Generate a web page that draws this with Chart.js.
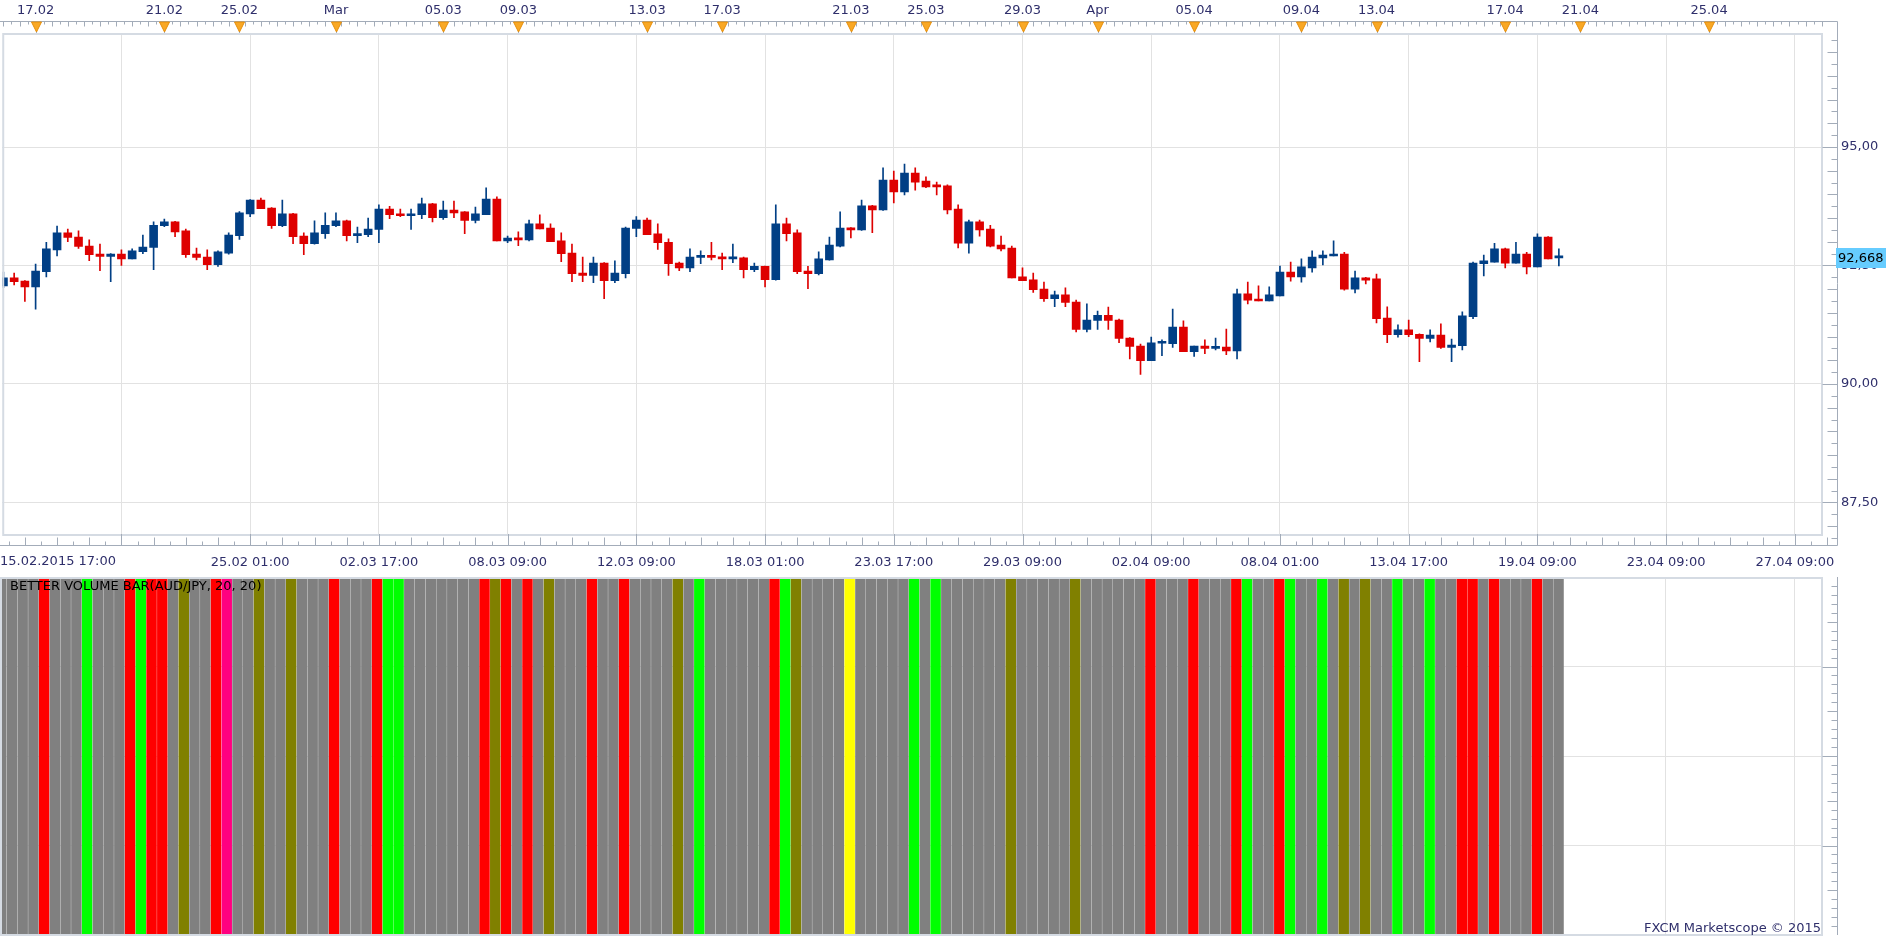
<!DOCTYPE html>
<html><head><meta charset="utf-8">
<script src="https://cdn.jsdelivr.net/npm/chart.js@4.4.1/dist/chart.umd.min.js"></script>
<style>
html,body{margin:0;padding:0;background:#fff;overflow:hidden;width:1903px;height:937px;}
#pc{position:absolute;left:0;top:0;}
#vc{position:absolute;left:0;top:577px;}
</style></head><body>
<canvas id="pc" width="1903" height="577"></canvas>
<canvas id="vc" width="1903" height="360"></canvas>
<script>
// ---------- DATA (AUD/JPY, H8 bars) ----------
const openP = [92.07,92.24,92.17,92.05,92.37,92.83,93.19,93.10,92.91,92.74,
92.69,92.74,92.64,92.79,92.88,93.34,93.42,93.23,92.74,92.68,
92.52,92.76,93.13,93.59,93.88,93.71,93.34,93.59,93.12,92.96,
93.17,93.34,93.44,93.13,93.15,93.26,93.69,93.59,93.55,93.57,
93.80,93.51,93.67,93.63,93.45,93.57,93.90,93.02,93.08,93.04,
93.38,93.29,93.02,92.76,92.34,92.29,92.55,92.18,92.33,93.28,
93.46,93.17,92.99,92.55,92.45,92.67,92.70,92.68,92.64,92.66,
92.41,92.48,92.20,93.38,93.19,92.38,92.33,92.62,92.91,93.29,
93.25,93.76,93.67,94.30,94.05,94.45,94.28,94.18,94.18,93.69,
92.97,93.42,93.27,92.93,92.87,92.26,92.20,92.00,91.80,91.88,
91.73,91.15,91.34,91.45,91.35,90.97,90.80,90.49,90.86,90.85,
91.20,90.68,90.80,90.75,90.78,90.70,91.90,91.79,91.75,91.86,
92.36,92.26,92.45,92.66,92.70,92.74,92.00,92.24,92.22,91.39,
91.04,91.14,91.05,90.96,91.03,90.77,90.81,91.42,92.54,92.57,
92.85,92.55,92.74,92.47,93.10,92.66];
const highP = [92.36,92.34,92.18,92.53,92.99,93.33,93.27,93.23,93.04,92.95,
92.75,92.83,92.85,93.14,93.42,93.48,93.43,93.27,92.87,92.83,
92.81,93.19,93.64,93.89,93.92,93.72,93.88,93.60,93.19,93.44,
93.61,93.61,93.46,93.31,93.50,93.78,93.75,93.69,93.69,93.92,
93.81,93.86,93.86,93.64,93.73,94.14,93.95,93.12,93.21,93.46,
93.57,93.38,93.19,92.95,92.68,92.68,92.56,92.60,93.31,93.53,
93.50,93.38,93.06,92.57,92.85,92.81,92.99,92.76,92.95,92.68,
92.55,92.49,93.78,93.50,93.25,92.48,92.79,93.10,93.63,93.30,
93.88,93.77,94.56,94.49,94.64,94.56,94.37,94.26,94.20,93.78,
93.46,93.46,93.35,93.12,92.91,92.45,92.34,92.15,91.96,92.03,
91.77,91.69,91.54,91.62,91.37,90.98,90.84,90.99,90.93,91.58,
91.33,90.80,90.93,90.97,91.16,92.00,92.15,92.07,92.05,92.49,
92.57,92.64,92.81,92.81,93.02,92.78,92.38,92.25,92.32,91.63,
91.25,91.35,91.06,91.14,91.27,90.95,91.52,92.57,92.72,92.97,
92.87,92.99,92.78,93.17,93.11,92.85];
const lowP = [92.03,92.09,91.74,91.58,92.26,92.70,93.00,92.86,92.60,92.39,
92.16,92.50,92.64,92.75,92.41,93.32,93.11,92.67,92.62,92.41,
92.48,92.74,93.05,93.53,93.70,93.28,93.32,92.96,92.73,92.95,
93.07,93.32,93.02,92.98,93.11,92.98,93.49,93.53,93.26,93.49,
93.42,93.47,93.51,93.17,93.40,93.57,93.02,92.98,92.92,93.02,
93.27,93.00,92.58,92.16,92.16,92.14,91.80,92.14,92.24,93.11,
93.15,92.84,92.29,92.39,92.37,92.54,92.62,92.41,92.56,92.24,
92.37,92.05,92.19,93.02,92.33,92.01,92.30,92.61,92.89,93.08,
93.24,93.19,93.66,93.82,93.99,94.09,94.14,93.99,93.59,92.87,
92.76,93.12,92.89,92.81,92.24,92.18,91.93,91.74,91.63,91.63,
91.10,91.10,91.15,91.15,90.87,90.53,90.20,90.49,90.60,90.77,
90.68,90.58,90.64,90.72,90.62,90.53,91.69,91.75,91.75,91.86,
92.17,92.15,92.36,92.51,92.70,91.98,91.92,92.11,91.29,90.87,
90.99,91.00,90.47,90.89,90.75,90.47,90.72,91.38,92.28,92.57,
92.45,92.55,92.32,92.47,92.64,92.49];
const closeP = [92.24,92.16,92.05,92.38,92.85,93.19,93.09,92.90,92.73,92.69,
92.74,92.64,92.81,92.89,93.35,93.42,93.21,92.73,92.67,92.52,
92.79,93.14,93.61,93.88,93.70,93.34,93.59,93.11,92.96,93.19,
93.35,93.44,93.13,93.16,93.27,93.69,93.57,93.55,93.59,93.80,
93.51,93.67,93.61,93.45,93.59,93.90,93.02,93.08,93.04,93.38,
93.27,93.00,92.75,92.33,92.29,92.55,92.18,92.34,93.29,93.46,
93.15,92.98,92.54,92.45,92.68,92.70,92.67,92.64,92.67,92.41,
92.48,92.20,93.38,93.17,92.37,92.33,92.64,92.93,93.29,93.25,
93.76,93.67,94.30,94.05,94.45,94.26,94.16,94.16,93.67,92.97,
93.42,93.25,92.91,92.85,92.24,92.18,91.99,91.80,91.88,91.72,
91.15,91.35,91.45,91.34,90.96,90.79,90.49,90.87,90.87,91.20,
90.68,90.80,90.75,90.78,90.70,91.90,91.77,91.75,91.88,92.36,
92.26,92.47,92.68,92.72,92.74,92.00,92.24,92.19,91.38,91.04,
91.14,91.04,90.96,91.03,90.77,90.82,91.44,92.55,92.60,92.85,
92.55,92.74,92.47,93.10,92.64,92.668];
// Better Volume bar classes: N=neutral, R=climax, G=low volume, O=churn, Y=climax+churn, P=climax high
const volumeCodes = [
'N','N','N','N','R','N','N','N','G','N',
'N','N','R','G','R','R','N','O','N','N',
'R','P','N','N','O','N','N','O','N','N',
'N','R','N','N','N','R','G','G','N','N',
'N','N','N','N','N','R','O','R','N','R',
'N','O','N','N','N','R','N','N','R','N',
'N','N','N','O','N','G','N','N','N','N',
'N','N','R','G','O','N','N','N','N','Y',
'N','N','N','N','N','G','N','G','N','N',
'N','N','N','N','O','N','N','N','N','N',
'O','N','N','N','N','N','N','R','N','N',
'N','R','N','N','N','R','G','N','N','R',
'G','N','N','G','N','O','N','O','N','N',
'G','N','N','G','N','N','R','R','N','R',
'N','N','N','R','N','N'];
const priceTicks = [87.5, 90, 92.5, 95];
const bottomTickIdx = [11,23,35,47,59,71,83,95,107,119,131,143,155,167];
const bottomTickLabels = ['','25.02 01:00','02.03 17:00','08.03 09:00','12.03 09:00','18.03 01:00','23.03 17:00','29.03 09:00','02.04 09:00','08.04 01:00','13.04 17:00','19.04 09:00','23.04 09:00','27.04 09:00'];
const firstBarLabel = '15.02.2015 17:00';
const topTickIdx = [3,15,22,31,41,48,60,67,79,86,95,102,111,121,128,140,147,159];
const topTickLabels = ['17.02','21.02','25.02','Mar','05.03','09.03','13.03','17.03','21.03','25.03','29.03','Apr','05.04','09.04','13.04','17.04','21.04','25.04'];
const lastPrice = 92.668;
const indicatorTitle = 'BETTER VOLUME BAR(AUD/JPY, 20, 20)';
const copyrightText = 'FXCM Marketscope \u00A9 2015';

// ---------- STYLE ----------
const X_MIN = -0.1117, X_MAX = 169.53;
const Y_MIN = 86.835, Y_MAX = 97.363;
const BLUE = '#013f85', RED = '#de0000';
const GRID = '#e2e2e2', FRAME = '#d5dbe3', AXIS = '#a3acb9', TXT = '#2f2f6b';
const FONT = 'DejaVu Sans';
const VOL_COLORS = {N:'#808080', R:'#ff0000', G:'#00ff00', O:'#808000', Y:'#ffff00', P:'#ff0080'};

const idx = openP.map((_, i) => i);
const candleColors = idx.map(i => closeP[i] >= openP[i] ? BLUE : RED);

const fmtPrice = v => v.toFixed(2).replace('.', ',');

const priceDeco = {
  id: 'priceDeco',
  afterDraw(chart) {
    const ctx = chart.ctx, ca = chart.chartArea, xs = chart.scales.x, ys = chart.scales.y;
    ctx.save();
    // inner frame
    ctx.strokeStyle = FRAME; ctx.lineWidth = 2;
    ctx.strokeRect(ca.left + 1, ca.top - 1, ca.right - ca.left - 1, ca.bottom - ca.top + 2);
    // axis box
    const axR = 1837.5, axT = 21.5, axB = 545.5;
    ctx.strokeStyle = AXIS; ctx.lineWidth = 1;
    ctx.beginPath();
    ctx.moveTo(0, axT); ctx.lineTo(axR, axT); ctx.lineTo(axR, axB); ctx.lineTo(0, axB);
    ctx.stroke();
    // top ticks
    ctx.beginPath();
    let k = 0;
    for (let v = 0; v <= X_MAX; v += 0.75, k++) {
      const x = Math.round(xs.getPixelForValue(v)) + 0.5;
      if (x > axR) break;
      ctx.moveTo(x, axT); ctx.lineTo(x, axT + (k % 2 === 0 ? 5 : 3));
    }
    // bottom ticks
    for (let j = -8; j < 120; j++) {
      const v = 11 + 1.5 * j;
      const x = Math.round(xs.getPixelForValue(v)) + 0.5;
      if (x < 0 || x > axR) continue;
      const len = (j % 8 === 0) ? (axB - ca.bottom) : (j % 2 === 0 ? 8 : 4);
      ctx.moveTo(x, axB); ctx.lineTo(x, axB - len);
    }
    // right ticks
    for (let p = 86.75; p <= 97.3; p += 0.25) {
      const y = Math.round(ys.getPixelForValue(p)) + 0.5;
      if (y < axT || y > axB) continue;
      const q = Math.round(p * 4);
      const len = (q % 10 === 0) ? 15 : (q % 2 === 0 ? 10 : 6);
      ctx.moveTo(axR, y); ctx.lineTo(axR - len, y);
    }
    ctx.stroke();
    // top markers
    topTickIdx.forEach(v => {
      const x = Math.round(xs.getPixelForValue(v)) + 0.5;
      ctx.strokeStyle = AXIS;
      ctx.beginPath(); ctx.moveTo(x, axT + 9); ctx.lineTo(x, ca.top - 2); ctx.stroke();
      ctx.fillStyle = '#f9a825'; ctx.strokeStyle = '#e58e0a';
      ctx.beginPath(); ctx.moveTo(x - 5, axT + 0.5); ctx.lineTo(x + 5, axT + 0.5); ctx.lineTo(x, axT + 10.5); ctx.closePath();
      ctx.fill(); ctx.stroke();
    });
    // first bottom label
    ctx.fillStyle = TXT; ctx.font = '13px "' + FONT + '"';
    ctx.textAlign = 'left'; ctx.textBaseline = 'top';
    ctx.fillText(firstBarLabel, 0, ca.bottom + 21);
    // last price box
    const yl = ys.getPixelForValue(lastPrice);
    ctx.fillStyle = '#66ccff';
    ctx.fillRect(1836, Math.round(yl) - 10, 50, 20);
    ctx.fillStyle = '#000';
    ctx.textBaseline = 'middle';
    ctx.fillText(lastPrice.toFixed(3).replace('.', ','), 1838, yl + 1);
    ctx.restore();
  }
};

new Chart(document.getElementById('pc'), {
  type: 'bar',
  data: {
    datasets: [
      { label: 'wick', data: idx.map(i => ({ x: i, y: [lowP[i], highP[i]] })), backgroundColor: candleColors,
        barThickness: 1, grouped: false, order: 2, borderWidth: 0 },
      { label: 'body', data: idx.map(i => ({ x: i, y: [openP[i], closeP[i]] })), backgroundColor: candleColors,
        barThickness: 8, grouped: false, order: 1, borderWidth: 0, minBarLength: 2 }
    ]
  },
  options: {
    responsive: false, animation: false, devicePixelRatio: 1,
    layout: { padding: 0 },
    plugins: { legend: { display: false }, tooltip: { enabled: false } },
    scales: {
      x: {
        type: 'linear', position: 'bottom', min: X_MIN, max: X_MAX, offset: false,
        afterBuildTicks: s => { s.ticks = bottomTickIdx.map(v => ({ value: v })); },
        afterFit: s => { s.height = 43; },
        ticks: { autoSkip: false, maxRotation: 0, padding: 21, color: TXT, font: { family: FONT, size: 13 },
          callback: (v, i) => bottomTickLabels[i] },
        grid: { color: GRID, drawTicks: false, lineWidth: 1, offset: false },
        border: { display: false }
      },
      xTop: {
        type: 'linear', position: 'top', min: X_MIN, max: X_MAX, offset: false,
        afterBuildTicks: s => { s.ticks = topTickIdx.map(v => ({ value: v })); },
        afterFit: s => { s.height = 35; },
        ticks: { autoSkip: false, maxRotation: 0, padding: 17, color: TXT, font: { family: FONT, size: 13 },
          callback: (v, i) => topTickLabels[i] },
        grid: { display: false, drawTicks: false, offset: false },
        border: { display: false }
      },
      y: {
        type: 'linear', position: 'right', min: Y_MIN, max: Y_MAX,
        afterBuildTicks: s => { s.ticks = priceTicks.map(v => ({ value: v })); },
        afterFit: s => { s.width = 81; },
        ticks: { padding: 19, color: TXT, font: { family: FONT, size: 13 }, callback: v => fmtPrice(v) },
        grid: { color: GRID, drawTicks: false, lineWidth: 1 },
        border: { display: false }
      }
    }
  },
  plugins: [priceDeco]
});

const volDeco = {
  id: 'volDeco',
  afterDraw(chart) {
    const ctx = chart.ctx, ca = chart.chartArea, ys = chart.scales.y;
    ctx.save();
    ctx.strokeStyle = FRAME; ctx.lineWidth = 2;
    ctx.strokeRect(ca.left + 1, ca.top + 1, ca.right - ca.left - 1, ca.bottom - ca.top - 1);
    const axR = 1837.5;
    ctx.strokeStyle = AXIS; ctx.lineWidth = 1;
    ctx.beginPath();
    ctx.moveTo(axR, 0); ctx.lineTo(axR, ca.bottom);
    for (let t = 1; t < 40; t++) {
      const y = Math.round(ys.getPixelForValue(t / 10)) + 0.5;
      const len = (t % 10 === 0) ? 15 : (t % 5 === 0 ? 10 : 6);
      ctx.moveTo(axR, y); ctx.lineTo(axR - len, y);
    }
    ctx.stroke();
    ctx.font = '13px "' + FONT + '"';
    ctx.fillStyle = '#000'; ctx.textAlign = 'left'; ctx.textBaseline = 'alphabetic';
    ctx.fillText(indicatorTitle, 10, 13);
    ctx.fillStyle = TXT; ctx.textAlign = 'right';
    ctx.fillText(copyrightText, 1821, 355);
    ctx.restore();
  }
};

new Chart(document.getElementById('vc'), {
  type: 'bar',
  data: {
    datasets: [{
      label: 'Better Volume', data: idx.map(i => ({ x: i, y: 4 })),
      backgroundColor: volumeCodes.map(c => VOL_COLORS[c]),
      barThickness: 9.8, grouped: false, borderWidth: 0
    }]
  },
  options: {
    responsive: false, animation: false, devicePixelRatio: 1,
    layout: { padding: 0 },
    plugins: { legend: { display: false }, tooltip: { enabled: false } },
    scales: {
      x: {
        type: 'linear', position: 'bottom', min: X_MIN, max: X_MAX, offset: false,
        afterBuildTicks: s => { s.ticks = bottomTickIdx.map(v => ({ value: v })); },
        afterFit: s => { s.height = 2; },
        ticks: { display: false },
        grid: { color: GRID, drawTicks: false, offset: false },
        border: { display: false }
      },
      y: {
        type: 'linear', position: 'right', min: 0, max: 4,
        afterBuildTicks: s => { s.ticks = [1, 2, 3].map(v => ({ value: v })); },
        afterFit: s => { s.width = 81; },
        ticks: { display: false },
        grid: { color: GRID, drawTicks: false },
        border: { display: false }
      }
    }
  },
  plugins: [volDeco]
});
</script>
</body></html>
